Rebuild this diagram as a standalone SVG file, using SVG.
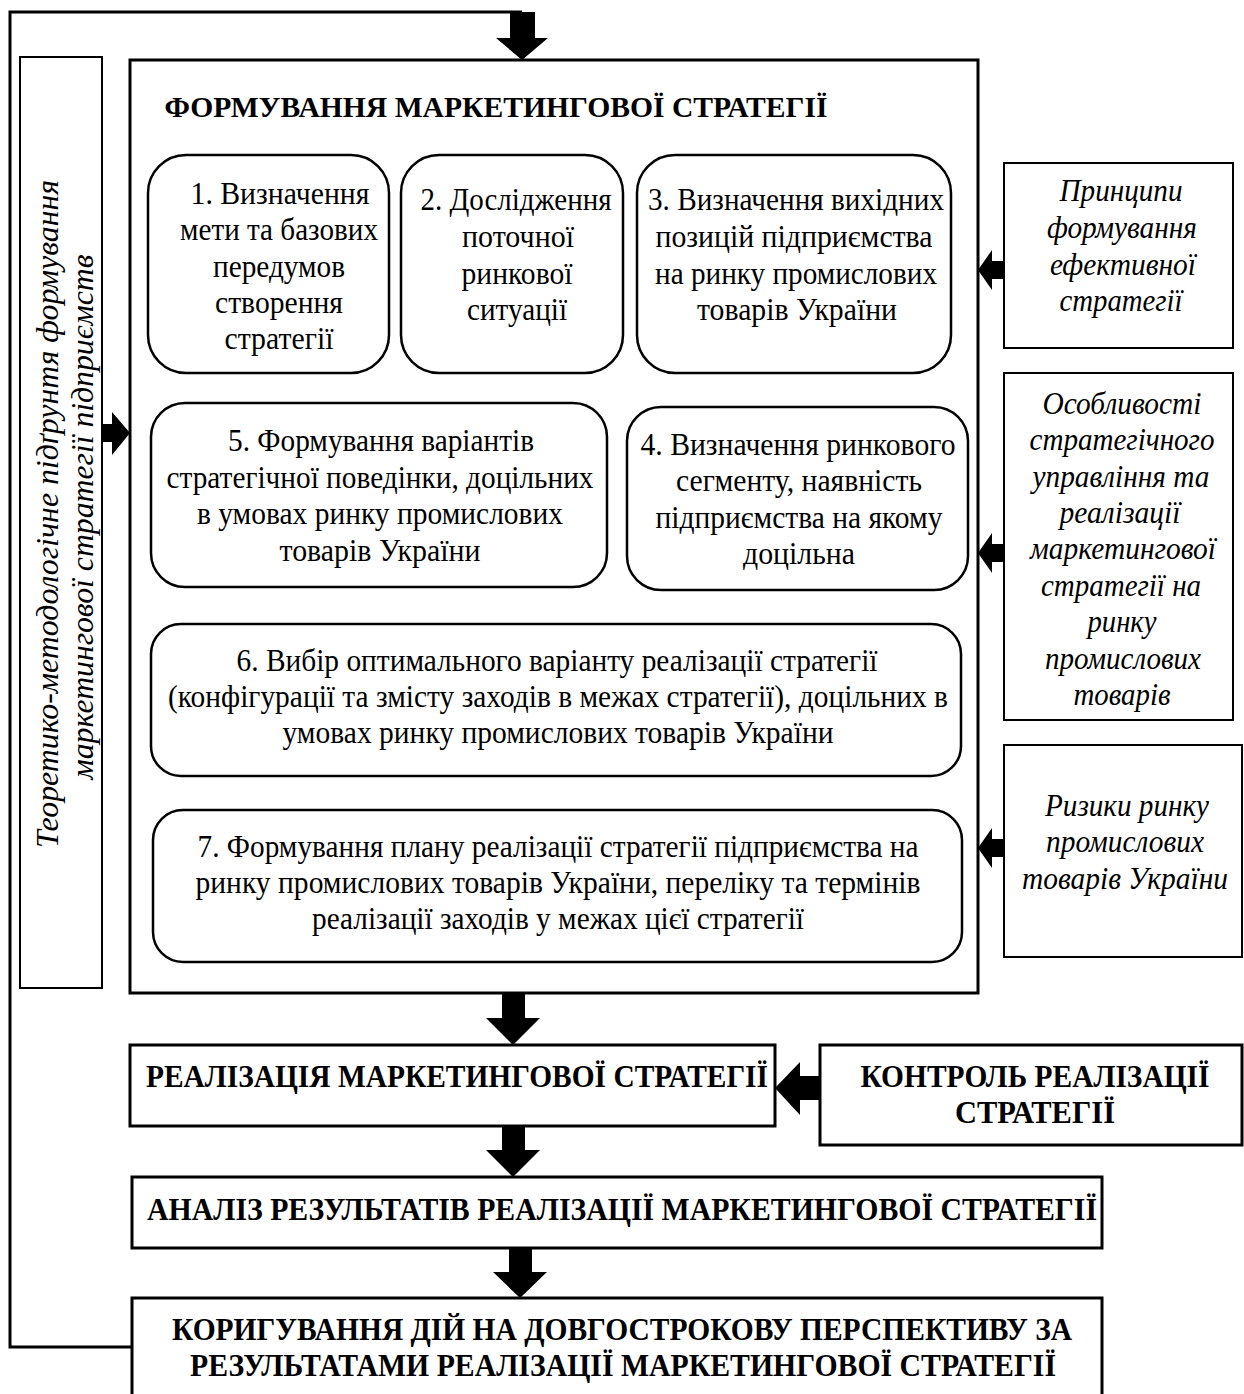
<svg xmlns="http://www.w3.org/2000/svg" width="1244" height="1394" viewBox="0 0 1244 1394">
<style>
.bg{fill:#fff}
.box{fill:#fff;stroke:#000;stroke-width:2.5}
.main{fill:#fff;stroke:#000;stroke-width:3}
.rbox{fill:#fff;stroke:#000;stroke-width:2}
.t{font-family:"Liberation Serif","Times New Roman",serif;font-size:31px;fill:#000;text-anchor:middle}
.b{font-family:"Liberation Serif","Times New Roman",serif;font-size:32px;font-weight:bold;fill:#000;text-anchor:middle}
.i{font-family:"Liberation Serif","Times New Roman",serif;font-size:31px;font-style:italic;fill:#000;text-anchor:middle}
.line{fill:none;stroke:#000;stroke-width:3}
.arr{fill:#000;stroke:none}
</style>
<rect class="bg" x="0" y="0" width="1244" height="1394"/>

<g id="connectors">
  <path class="line" d="M132,1347 L10,1347 L10,12 L522,12"/>
  <polygon class="arr" points="510,12 535,12 535,38 548,38 522,60 496,38 510,38"/>
  <polygon class="arr" points="102,424 112,424 112,412 130,433 112,455 112,442 102,442"/>
  <polygon class="arr" points="1004,261 992,261 992,250 978,270 992,290 992,279 1004,279"/>
  <polygon class="arr" points="1004,544 992,544 992,533 978,553 992,573 992,562 1004,562"/>
  <polygon class="arr" points="1004,839 992,839 992,828 978,848 992,868 992,857 1004,857"/>
  <polygon class="arr" points="502,993 525,993 525,1018 540,1018 513,1045 486,1018 502,1018"/>
  <polygon class="arr" points="502,1126 525,1126 525,1150 540,1150 513,1177 486,1150 502,1150"/>
  <polygon class="arr" points="509,1248 532,1248 532,1272 547,1272 520,1298 493,1272 509,1272"/>
  <polygon class="arr" points="820,1076 800,1076 800,1062 775,1088 800,1115 800,1100 820,1100"/>
</g>

<g id="node-theory">
  <rect class="rbox" x="20" y="57" width="82" height="931"/>
  <text class="i" transform="translate(58,514) rotate(-90)" textLength="668" lengthAdjust="spacingAndGlyphs">Теоретико-методологічне підґрунтя формування</text>
  <text class="i" transform="translate(93,517) rotate(-90)" textLength="525" lengthAdjust="spacingAndGlyphs">маркетингової стратегії підприємств</text>
</g>

<g id="node-main">
  <rect class="main" x="130" y="60" width="848" height="933"/>
  <text class="b" x="496" y="117" style="font-size:30px" textLength="663" lengthAdjust="spacingAndGlyphs">ФОРМУВАННЯ МАРКЕТИНГОВОЇ СТРАТЕГІЇ</text>
</g>

<g id="node-1">
  <rect class="box" x="148" y="155" width="241" height="218" rx="38"/>
  <text class="t" x="280" y="204" textLength="179" lengthAdjust="spacingAndGlyphs">1.  Визначення</text>
  <text class="t" x="279" y="240" textLength="198" lengthAdjust="spacingAndGlyphs">мети та базових</text>
  <text class="t" x="279" y="277" textLength="132" lengthAdjust="spacingAndGlyphs">передумов</text>
  <text class="t" x="279" y="313" textLength="128" lengthAdjust="spacingAndGlyphs">створення</text>
  <text class="t" x="279" y="349" textLength="109" lengthAdjust="spacingAndGlyphs">стратегії</text>
</g>

<g id="node-2">
  <rect class="box" x="401" y="155" width="222" height="218" rx="38"/>
  <text class="t" x="516" y="210" textLength="191" lengthAdjust="spacingAndGlyphs">2. Дослідження</text>
  <text class="t" x="518" y="247" textLength="112" lengthAdjust="spacingAndGlyphs">поточної</text>
  <text class="t" x="517" y="284" textLength="111" lengthAdjust="spacingAndGlyphs">ринкової</text>
  <text class="t" x="517" y="320" textLength="100" lengthAdjust="spacingAndGlyphs">ситуації</text>
</g>

<g id="node-3">
  <rect class="box" x="637" y="155" width="314" height="218" rx="38"/>
  <text class="t" x="796" y="210" textLength="296" lengthAdjust="spacingAndGlyphs">3. Визначення вихідних</text>
  <text class="t" x="794" y="247" textLength="277" lengthAdjust="spacingAndGlyphs">позицій підприємства</text>
  <text class="t" x="796" y="284" textLength="282" lengthAdjust="spacingAndGlyphs">на ринку промислових</text>
  <text class="t" x="797" y="320" textLength="200" lengthAdjust="spacingAndGlyphs">товарів України</text>
</g>

<g id="node-5">
  <rect class="box" x="151" y="403" width="456" height="184" rx="34"/>
  <text class="t" x="381" y="451" textLength="306" lengthAdjust="spacingAndGlyphs">5. Формування варіантів</text>
  <text class="t" x="380" y="488" textLength="427" lengthAdjust="spacingAndGlyphs">стратегічної поведінки, доцільних</text>
  <text class="t" x="380" y="524" textLength="366" lengthAdjust="spacingAndGlyphs">в умовах ринку промислових</text>
  <text class="t" x="380" y="561" textLength="201" lengthAdjust="spacingAndGlyphs">товарів України</text>
</g>

<g id="node-4">
  <rect class="box" x="627" y="407" width="341" height="183" rx="34"/>
  <text class="t" x="798" y="455" textLength="315" lengthAdjust="spacingAndGlyphs">4. Визначення ринкового</text>
  <text class="t" x="799" y="491" textLength="246" lengthAdjust="spacingAndGlyphs">сегменту, наявність</text>
  <text class="t" x="799" y="528" textLength="287" lengthAdjust="spacingAndGlyphs">підприємства на якому</text>
  <text class="t" x="799" y="564" textLength="112" lengthAdjust="spacingAndGlyphs">доцільна</text>
</g>

<g id="node-6">
  <rect class="box" x="151" y="624" width="810" height="152" rx="30"/>
  <text class="t" x="557" y="671" textLength="641" lengthAdjust="spacingAndGlyphs">6. Вибір оптимального варіанту реалізації стратегії</text>
  <text class="t" x="558" y="707" textLength="780" lengthAdjust="spacingAndGlyphs">(конфігурації та змісту заходів в межах стратегії), доцільних в</text>
  <text class="t" x="558" y="743" textLength="551" lengthAdjust="spacingAndGlyphs">умовах ринку промислових товарів України</text>
</g>

<g id="node-7">
  <rect class="box" x="153" y="810" width="809" height="152" rx="30"/>
  <text class="t" x="558" y="857" textLength="721" lengthAdjust="spacingAndGlyphs">7. Формування плану реалізації стратегії підприємства на</text>
  <text class="t" x="558" y="893" textLength="725" lengthAdjust="spacingAndGlyphs">ринку промислових товарів України, переліку та термінів</text>
  <text class="t" x="558" y="929" textLength="492" lengthAdjust="spacingAndGlyphs">реалізації заходів у межах цієї стратегії</text>
</g>

<g id="node-principles">
  <rect class="rbox" x="1004" y="163" width="229" height="185"/>
  <text class="i" x="1121" y="201" textLength="123" lengthAdjust="spacingAndGlyphs">Принципи</text>
  <text class="i" x="1122" y="238" textLength="150" lengthAdjust="spacingAndGlyphs">формування</text>
  <text class="i" x="1123" y="275" textLength="146" lengthAdjust="spacingAndGlyphs">ефективної</text>
  <text class="i" x="1121" y="311" textLength="123" lengthAdjust="spacingAndGlyphs">стратегії</text>
</g>

<g id="node-features">
  <rect class="rbox" x="1004" y="373" width="229" height="347"/>
  <text class="i" x="1122" y="414" textLength="159" lengthAdjust="spacingAndGlyphs">Особливості</text>
  <text class="i" x="1122" y="450" textLength="185" lengthAdjust="spacingAndGlyphs">стратегічного</text>
  <text class="i" x="1121" y="487" textLength="177" lengthAdjust="spacingAndGlyphs">управління та</text>
  <text class="i" x="1120" y="523" textLength="121" lengthAdjust="spacingAndGlyphs">реалізації</text>
  <text class="i" x="1123" y="559" textLength="186" lengthAdjust="spacingAndGlyphs">маркетингової</text>
  <text class="i" x="1121" y="596" textLength="160" lengthAdjust="spacingAndGlyphs">стратегії на</text>
  <text class="i" x="1122" y="632" textLength="69" lengthAdjust="spacingAndGlyphs">ринку</text>
  <text class="i" x="1123" y="669" textLength="156" lengthAdjust="spacingAndGlyphs">промислових</text>
  <text class="i" x="1122" y="705" textLength="97" lengthAdjust="spacingAndGlyphs">товарів</text>
</g>

<g id="node-risks">
  <rect class="rbox" x="1004" y="745" width="238" height="212"/>
  <text class="i" x="1127" y="816" textLength="164" lengthAdjust="spacingAndGlyphs">Ризики ринку</text>
  <text class="i" x="1125" y="852" textLength="158" lengthAdjust="spacingAndGlyphs">промислових</text>
  <text class="i" x="1125" y="889" textLength="206" lengthAdjust="spacingAndGlyphs">товарів України</text>
</g>

<g id="node-realization">
  <rect class="main" x="130" y="1045" width="645" height="81"/>
  <text class="b" x="457" y="1087" textLength="622" lengthAdjust="spacingAndGlyphs">РЕАЛІЗАЦІЯ МАРКЕТИНГОВОЇ СТРАТЕГІЇ</text>
</g>

<g id="node-control">
  <rect class="main" x="820" y="1045" width="422" height="100"/>
  <text class="b" x="1035" y="1087" textLength="349" lengthAdjust="spacingAndGlyphs">КОНТРОЛЬ РЕАЛІЗАЦІЇ</text>
  <text class="b" x="1035" y="1123" textLength="160" lengthAdjust="spacingAndGlyphs">СТРАТЕГІЇ</text>
</g>

<g id="node-analysis">
  <rect class="main" x="132" y="1177" width="970" height="71"/>
  <text class="b" x="622" y="1220" textLength="950" lengthAdjust="spacingAndGlyphs">АНАЛІЗ РЕЗУЛЬТАТІВ РЕАЛІЗАЦІЇ МАРКЕТИНГОВОЇ СТРАТЕГІЇ</text>
</g>

<g id="node-correction">
  <rect class="main" x="132" y="1298" width="970" height="110"/>
  <text class="b" x="622" y="1340" textLength="900" lengthAdjust="spacingAndGlyphs">КОРИГУВАННЯ ДІЙ НА ДОВГОСТРОКОВУ ПЕРСПЕКТИВУ ЗА</text>
  <text class="b" x="623" y="1376" textLength="866" lengthAdjust="spacingAndGlyphs">РЕЗУЛЬТАТАМИ РЕАЛІЗАЦІЇ МАРКЕТИНГОВОЇ СТРАТЕГІЇ</text>
</g>
</svg>
